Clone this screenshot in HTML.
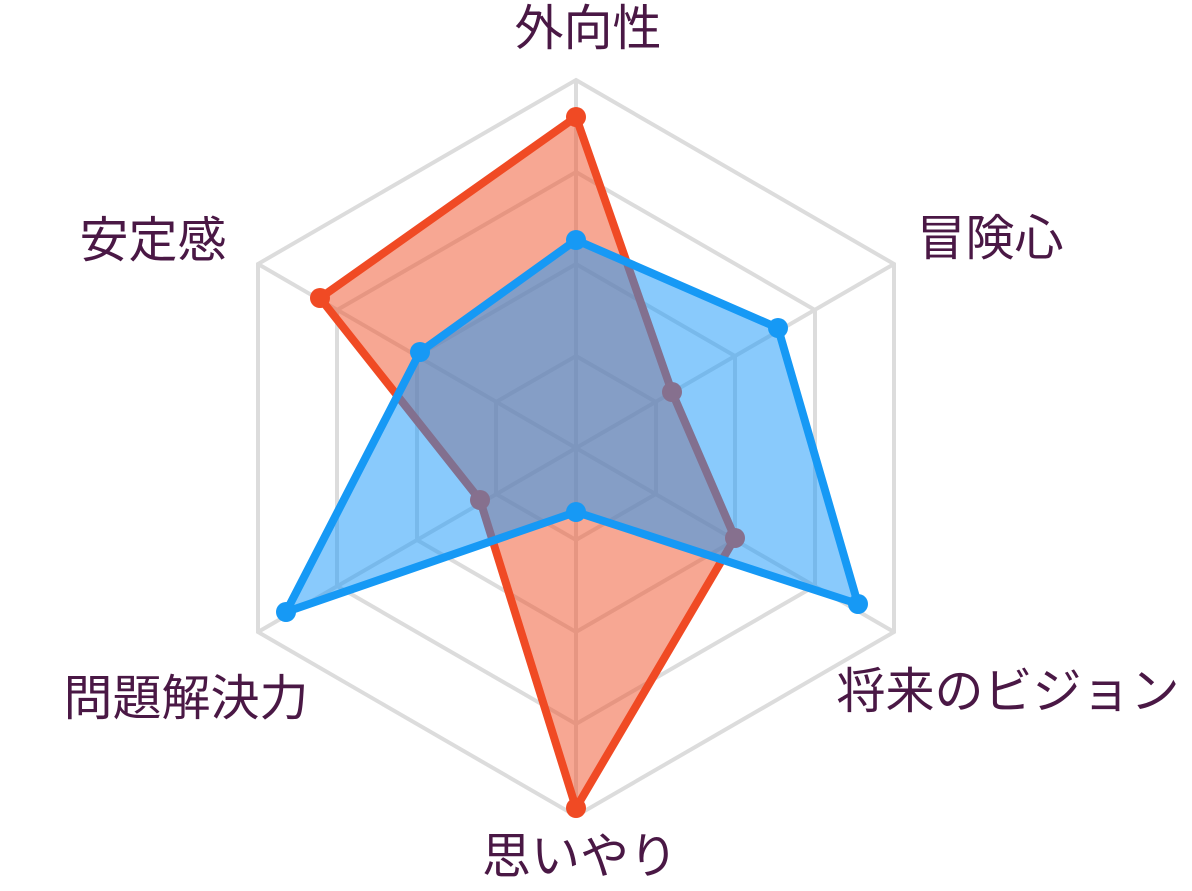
<!DOCTYPE html>
<html><head><meta charset="utf-8"><style>
html,body{margin:0;padding:0;background:#fff;}
svg{display:block;}
text{font-family:"Liberation Sans","Noto Sans CJK JP",sans-serif;font-size:49px;fill:#4a1845;text-anchor:middle;}
</style></head><body>
<svg width="1192" height="891" viewBox="0 0 1192 891">
<g fill="none" stroke="#dcdcdc" stroke-width="4">
<polygon points="576,80 894,264 894,632 576,816 258,632 258,264"/>
<polygon points="576,172 815,310 815,586 576,724 337,586 337,310"/>
<polygon points="576,264 735,356 735,540 576,632 417,540 417,356"/>
<polygon points="576,356 656,402 656,494 576,540 496,494 496,402"/>
<line x1="576" y1="80" x2="576" y2="816"/>
<line x1="894" y1="264" x2="258" y2="632"/>
<line x1="894" y1="632" x2="258" y2="264"/>
</g>
<polygon points="576,117 672,392 735,538 576,808 480,500 320,298" fill="rgba(240,80,40,0.5)" stroke="#f04a24" stroke-width="8" stroke-linejoin="round"/>
<polygon points="576,240 778,328 858,604 576,512 286,612 420,352" fill="rgba(20,150,250,0.5)" stroke="#1699f5" stroke-width="8" stroke-linejoin="round"/>
<g fill="#f04a24">
<circle cx="576" cy="117" r="10"/><circle cx="320" cy="298" r="10"/><circle cx="576" cy="808" r="10"/>
</g>
<g fill="#86708e">
<circle cx="672" cy="392" r="10"/><circle cx="735" cy="538" r="10"/><circle cx="480" cy="500" r="10"/>
</g>
<g fill="#1699f5">
<circle cx="576" cy="240" r="10"/><circle cx="778" cy="328" r="10"/><circle cx="858" cy="604" r="10"/><circle cx="576" cy="512" r="10"/><circle cx="286" cy="612" r="10"/><circle cx="420" cy="352" r="10"/>
</g>
<text x="588" y="45">外向性</text>
<text x="990" y="255">冒険心</text>
<text x="1008" y="708">将来のビジョン</text>
<text x="580" y="873">思いやり</text>
<text x="186" y="715">問題解決力</text>
<text x="153" y="257">安定感</text>
</svg>
</body></html>
